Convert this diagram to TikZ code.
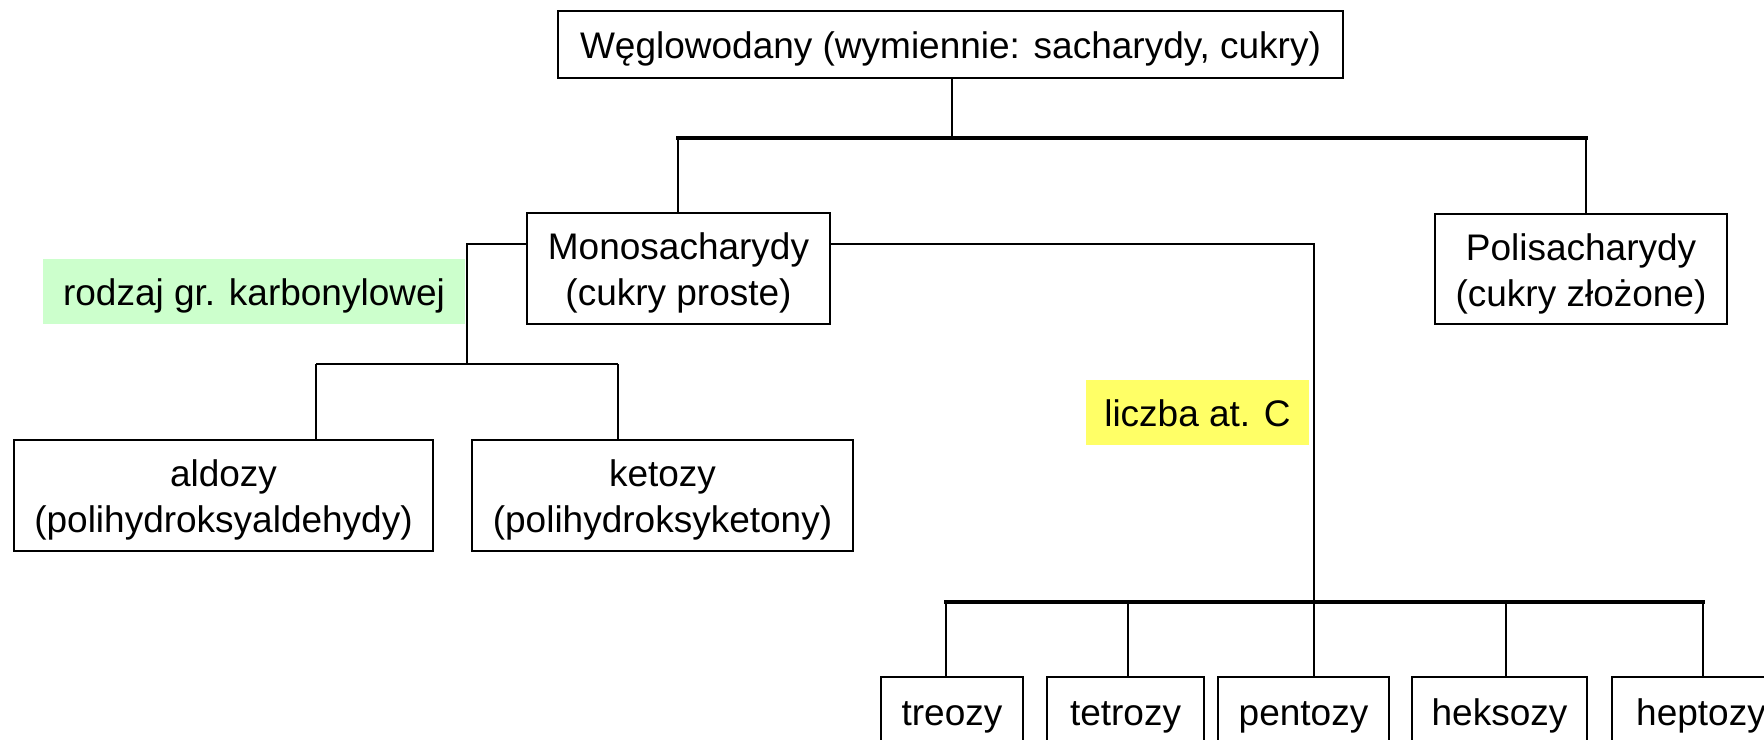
\documentclass[tikz,border=0pt]{standalone}
\usepackage{fontspec}
\setmainfont{Liberation Sans}
\definecolor{lgreen}{HTML}{CCFFCC}
\definecolor{lyellow}{HTML}{FFFF66}
\begin{document}
\begin{tikzpicture}[x=0.5pt,y=-0.5pt,
  txt/.style={inner sep=0pt, align=center, font=\fontsize{18.5}{23}\selectfont},
  one/.style={text height=14pt, text depth=0pt},
  two/.style={text height=37.1pt, text depth=0pt},
  box/.style={txt, draw, line width=1pt},
  lbl/.style={txt, one, minimum height=32.5pt},
  conn/.style={line width=1pt},
  thinconn/.style={line width=0.8pt},
  bus/.style={line width=1.6pt, line cap=rect}]
\useasboundingbox (0,0) rectangle (1764,739);
% nodes
\node[box, one, minimum width=392.5pt, minimum height=33.5pt] (top) at (950.5,44.5) {Węglowodany (wymiennie: sacharydy, cukry)};
\node[box, two, minimum width=151.5pt, minimum height=55.5pt] (mono) at (678.5,268.5) {Monosacharydy\\(cukry proste)};
\node[box, two, minimum width=146pt, minimum height=55pt] (poly) at (1581,269) {Polisacharydy\\(cukry złożone)};
\node[box, two, minimum width=209.5pt, minimum height=55.5pt] (aldo) at (223.5,495.5) {aldozy\\(polihydroksyaldehydy)};
\node[box, two, minimum width=190.5pt, minimum height=55.5pt] (keto) at (662.5,495.5) {ketozy\\(polihydroksyketony)};
\node[lbl, fill=lgreen, minimum width=211pt] (green) at (254,291.5) {rodzaj gr. karbonylowej};
\node[lbl, fill=lyellow, minimum width=111.5pt] (yellow) at (1197.5,412.5) {liczba at. C};
\node[box, one, minimum width=71pt, minimum height=34pt] (c3) at (952,711) {treozy};
\node[box, one, minimum width=78.5pt, minimum height=34pt] (c4) at (1125.5,711) {tetrozy};
\node[box, one, minimum width=85.5pt, minimum height=34pt] (c5) at (1303.5,711) {pentozy};
\node[box, one, minimum width=87.5pt, minimum height=34pt] (c6) at (1499.5,711) {heksozy};
\node[box, one, minimum width=89pt, minimum height=34pt] (c7) at (1701,711) {heptozy};
% junctions
\coordinate (j0) at (952,138);
\coordinate (j1) at (678,138);
\coordinate (j2) at (1586,138);
\coordinate (l0) at (467,244);
\coordinate (l1) at (467,364);
\coordinate (l2) at (316,364);
\coordinate (l3) at (618,364);
\coordinate (r0) at (1314,244);
\coordinate (r1) at (1314,602);
\coordinate (b1) at (946,602);
\coordinate (b2) at (1128,602);
\coordinate (b4) at (1506,602);
\coordinate (b5) at (1703,602);
% connectors
\draw[conn] (top.south -| j0) -- (j0);
\draw[bus] (j1) -- (j2);
\draw[conn] (j1) -- (mono.north -| j1);
\draw[conn] (j2) -- (poly.north -| j2);
\draw[thinconn] (mono.west |- l0) -- (l0) -- (l1);
\draw[conn] (l2) -- (l3);
\draw[conn] (l2) -- (aldo.north -| l2);
\draw[conn] (l3) -- (keto.north -| l3);
\draw[thinconn] (mono.east |- r0) -- (r0) -- (r1);
\draw[bus] (b1) -- (b5);
\draw[conn] (b1) -- (c3.north -| b1);
\draw[conn] (b2) -- (c4.north -| b2);
\draw[conn] (r1) -- (c5.north -| r1);
\draw[conn] (b4) -- (c6.north -| b4);
\draw[conn] (b5) -- (c7.north -| b5);
\end{tikzpicture}
\end{document}
